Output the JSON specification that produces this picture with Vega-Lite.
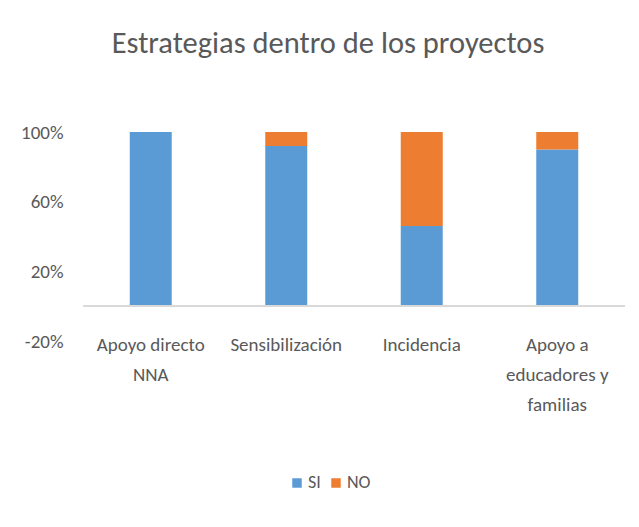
{
  "$schema": "https://vega.github.io/schema/vega-lite/v6.json",
  "autosize": {"type": "none"},
  "width": 542,
  "height": 209,
  "padding": {"left": 83, "top": 132, "right": 14, "bottom": 186},
  "background": "white",
  "config": {
    "font": "Carlito, 'DejaVu Sans Condensed', Lato, sans-serif",
    "view": {"stroke": null}
  },
  "title": {
    "text": "Estrategias dentro de los proyectos",
    "fontSize": 30.5,
    "fontWeight": "normal",
    "color": "#595959",
    "anchor": "middle",
    "offset": 64,
    "dx": -26
  },
  "data": {
    "values": [
      {"cat": "Apoyo directo NNA", "resp": "SI", "val": 100},
      {"cat": "Apoyo directo NNA", "resp": "NO", "val": 0},
      {"cat": "Sensibilización", "resp": "SI", "val": 92},
      {"cat": "Sensibilización", "resp": "NO", "val": 8},
      {"cat": "Incidencia", "resp": "SI", "val": 46},
      {"cat": "Incidencia", "resp": "NO", "val": 54},
      {"cat": "Apoyo a educadores y familias", "resp": "SI", "val": 90},
      {"cat": "Apoyo a educadores y familias", "resp": "NO", "val": 10}
    ]
  },
  "layer": [
    {
      "mark": {"type": "bar"},
      "encoding": {
        "x": {
          "field": "cat",
          "type": "nominal",
          "sort": null,
          "title": null,
          "scale": {"paddingInner": 0.69, "paddingOuter": 0.345},
          "axis": {
            "domain": false,
            "ticks": false,
            "labelAngle": 0,
            "labelFontSize": 19,
            "labelColor": "#595959",
            "labelBaseline": "top",
            "labelPadding": -6,
            "labelLineHeight": 30,
            "labelLimit": 0,
            "labelExpr": "datum.value == 'Apoyo directo NNA' ? ['Apoyo directo', 'NNA'] : datum.value == 'Apoyo a educadores y familias' ? ['Apoyo a', 'educadores y', 'familias'] : datum.value"
          }
        },
        "y": {
          "field": "val",
          "type": "quantitative",
          "stack": "zero",
          "title": null,
          "scale": {"domain": [-20, 100], "nice": false},
          "axis": {
            "values": [-20, 20, 60, 100],
            "domain": false,
            "ticks": false,
            "grid": false,
            "labelFontSize": 19,
            "labelColor": "#595959",
            "labelPadding": 20,
            "labelExpr": "datum.value + '%'"
          }
        },
        "color": {
          "field": "resp",
          "type": "nominal",
          "scale": {"domain": ["SI", "NO"], "range": ["#5B9BD5", "#ED7D31"]},
          "legend": {
            "title": null,
            "orient": "none",
            "direction": "horizontal",
            "legendX": 205,
            "legendY": 342,
            "symbolType": "square",
            "symbolSize": 90,
            "symbolStrokeWidth": 0,
            "labelFontSize": 18,
            "labelColor": "#595959",
            "labelOffset": 2,
            "columnPadding": 6
          }
        },
        "order": {"field": "resp", "sort": "descending"}
      }
    },
    {
      "mark": {"type": "rule", "color": "#d9d9d9", "strokeWidth": 1.5},
      "encoding": {"y": {"datum": 0}}
    }
  ]
}
